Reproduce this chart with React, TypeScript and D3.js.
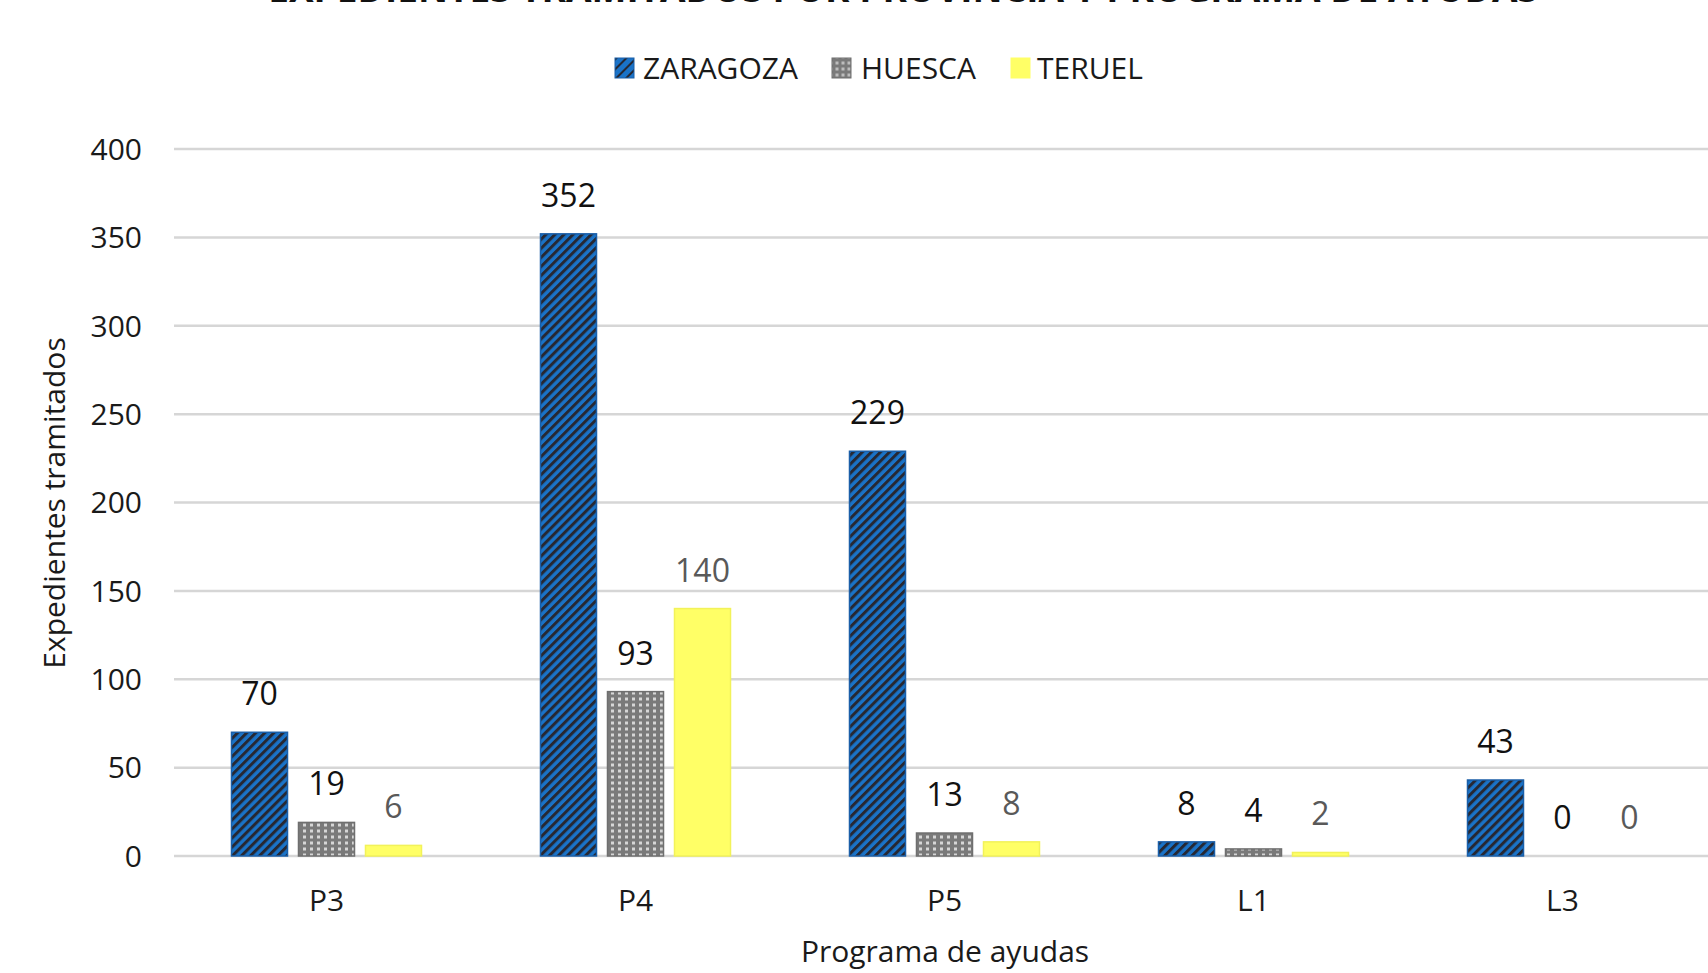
import React from "react";
import * as d3 from "d3";

const categories = ["P3", "P4", "P5", "L1", "L3"];
const seriesNames = ["ZARAGOZA", "HUESCA", "TERUEL"];
const zaragoza = [70, 352, 229, 8, 43];
const huesca = [19, 93, 13, 4, 0];
const teruel = [6, 140, 8, 2, 0];
const yTicks = [0, 50, 100, 150, 200, 250, 300, 350, 400];
const titleText = "EXPEDIENTES TRAMITADOS POR PROVINCIA Y PROGRAMA DE AYUDAS";
const xTitle = "Programa de ayudas";
const yTitle = "Expedientes tramitados";

const W = 1708;
const H = 973;
const FONT = "'Open Sans', 'Liberation Sans', sans-serif";

const seriesValues = [zaragoza, huesca, teruel];
const fills = ["url(#patZ)", "url(#patH)", "#ffff66"];
const strokes = ["#1b5fa8", "#6f6f6f", "#f2f25a"];
const labelColors = ["#111111", "#111111", "#595959"];

export default function App() {
  const x = d3.scaleBand<string>().domain(categories).range([172, 1717]).padding(0);
  const y = d3.scaleLinear().domain([0, 400]).range([856, 149]);
  const sub = d3
    .scaleBand<string>()
    .domain(seriesNames)
    .range([-100.5, 100.5])
    .paddingInner(0.164)
    .paddingOuter(0.082);

  const legendItems = [
    { name: "ZARAGOZA", sq: 615, tx: 643, fill: "url(#patZL)", stroke: "#1b5fa8" },
    { name: "HUESCA", sq: 832, tx: 861, fill: "url(#patHL)", stroke: "#6f6f6f" },
    { name: "TERUEL", sq: 1011, tx: 1037, fill: "#ffff66", stroke: "#ffff66" },
  ];

  return (
    <svg
      width={W}
      height={H}
      style={{ position: "fixed", top: 0, left: 0, background: "#fff" }}
      fontFamily={FONT}
    >
      <defs>
        <pattern id="patZ" patternUnits="userSpaceOnUse" width={6.4} height={6.4} patternTransform="rotate(45)">
          <rect width={6.4} height={6.4} fill="#1a73c8" />
          <rect width={3} height={6.4} fill="#262833" />
        </pattern>
        <pattern id="patZL" patternUnits="userSpaceOnUse" width={7} height={7} patternTransform="rotate(45)">
          <rect width={7} height={7} fill="#1a73c8" />
          <rect width={2} height={7} fill="#262833" />
        </pattern>
        <pattern id="patH" patternUnits="userSpaceOnUse" width={7} height={6}>
          <rect width={7} height={6} fill="#7a7a7a" />
          <rect x={2} y={1.5} width={3} height={3} fill="#d6d6d6" />
        </pattern>
        <pattern id="patHL" patternUnits="userSpaceOnUse" width={6} height={6}>
          <rect width={6} height={6} fill="#7a7a7a" />
          <rect x={1.5} y={1.5} width={3} height={3} fill="#bdbdbd" />
        </pattern>
      </defs>

      {/* Title (cut off at the top, as in the reference) */}
      <text x={903} y={2} textAnchor="middle" fontSize={37} fontWeight="bold" fill="#111111">
        {titleText}
      </text>

      {/* Legend */}
      {legendItems.map((d) => (
        <g key={d.name}>
          <rect x={d.sq} y={58} width={19} height={20} fill={d.fill} stroke={d.stroke} strokeWidth={1} />
          <text x={d.tx} y={79} fontSize={30} fill="#1a1a1a">
            {d.name}
          </text>
        </g>
      ))}

      {/* Gridlines */}
      {yTicks.map((t) => (
        <line key={t} x1={174} x2={W} y1={y(t)} y2={y(t)} stroke="#d6d6d6" strokeWidth={2.5} />
      ))}

      {/* Y tick labels */}
      {yTicks.map((t) => (
        <text key={"t" + t} x={142} y={y(t)} dy="0.36em" textAnchor="end" fontSize={30} fill="#1a1a1a">
          {t}
        </text>
      ))}

      {/* Bars */}
      {categories.map((c, ci) => {
        const cx = (x(c) as number) + x.bandwidth() / 2;
        return (
          <g key={c}>
            {seriesNames.map((s, si) => {
              const v = seriesValues[si][ci];
              const bx = cx + (sub(s) as number);
              const top = y(v);
              const h = y(0) - top;
              return (
                <g key={s}>
                  {v > 0 && (
                    <rect
                      x={bx}
                      y={top}
                      width={sub.bandwidth()}
                      height={h}
                      fill={fills[si]}
                      stroke={strokes[si]}
                      strokeWidth={1.5}
                    />
                  )}
                  <text
                    x={bx + sub.bandwidth() / 2}
                    y={top - 27}
                    textAnchor="middle"
                    fontSize={32}
                    fill={labelColors[si]}
                  >
                    {v}
                  </text>
                </g>
              );
            })}
            <text x={cx} y={911} textAnchor="middle" fontSize={30} fill="#1a1a1a">
              {c}
            </text>
          </g>
        );
      })}

      {/* Axis titles */}
      <text x={945} y={962} textAnchor="middle" fontSize={30} fill="#1a1a1a">
        {xTitle}
      </text>
      <text
        transform={`translate(65,503) rotate(-90)`}
        textAnchor="middle"
        fontSize={30}
        fill="#1a1a1a"
      >
        {yTitle}
      </text>
    </svg>
  );
}
